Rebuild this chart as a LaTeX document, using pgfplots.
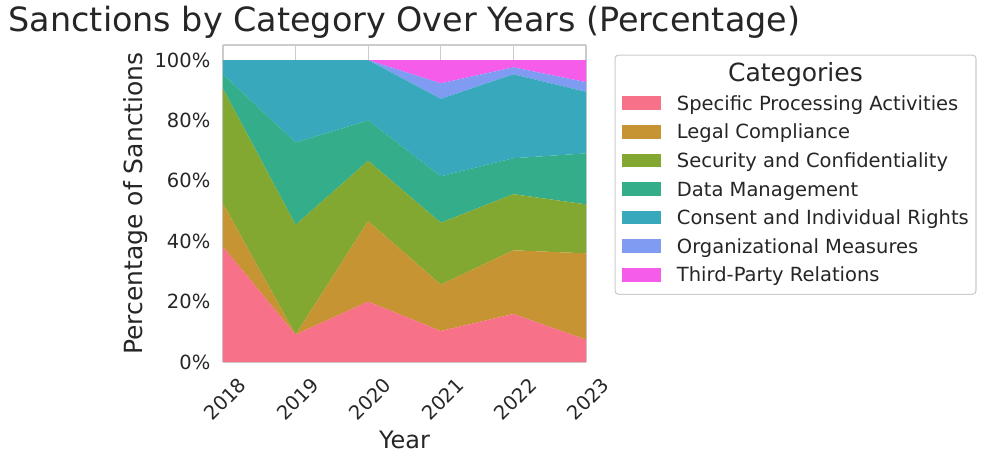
\documentclass[border=0pt]{standalone}
\usepackage{fontspec}
\setmainfont{DejaVu Sans}
\usepackage{pgfplots}
\pgfplotsset{compat=1.18}

\definecolor{cSPA}{HTML}{F77189}
\definecolor{cLC}{HTML}{C69432}
\definecolor{cSC}{HTML}{83A832}
\definecolor{cDM}{HTML}{34AE8A}
\definecolor{cCIR}{HTML}{38A9BD}
\definecolor{cOM}{HTML}{7F9CF2}
\definecolor{cTP}{HTML}{F45CE9}
\definecolor{txt}{HTML}{262626}
\definecolor{edge}{HTML}{CCCCCC}

\begin{document}
\begin{tikzpicture}[x=1pt,y=1pt]
\useasboundingbox (0,0) rectangle (986,464);
\begin{axis}[
    at={(223pt,102pt)}, anchor=south west,
    scale only axis, width=363pt, height=317pt,
    xmin=2018, xmax=2023, ymin=0, ymax=105,
    stack plots=y,
    xtick={2018,2019,2020,2021,2022,2023},
    ytick={0,20,40,60,80,100},
    yticklabel={\pgfmathprintnumber{\tick}\%},
    /pgf/number format/assume math mode=true,
    x tick label style={/pgf/number format/1000 sep={}},
    major tick length=0pt,
    grid=major,
    grid style={edge, line width=1.1pt},
    axis line style={draw=none},
    ticklabel style={font=\fontsize{19.5}{19.5}\selectfont, text=txt},
    xticklabel style={xshift=2pt, yshift=-37pt, rotate=45, anchor=center, inner sep=0pt},
    yticklabel style={anchor=east, inner sep=0pt, xshift=-12.5pt},
    xlabel={Year},
    ylabel={Percentage of Sanctions},
    xlabel style={font=\fontsize{24}{24}\selectfont, text=txt,
        at={(axis description cs:0.5,-0.246)}, anchor=center},
    ylabel style={font=\fontsize{25}{25}\selectfont, text=txt,
        at={(axis description cs:-0.242,0.5)}, anchor=center},
    title={Sanctions by Category Over Years (Percentage)},
    title style={font=\fontsize{33.4}{33.4}\selectfont, text=txt,
        at={(axis description cs:0.5,1.0252)}, anchor=base},
    legend cell align=left,
    legend image code/.code={\path[#1, draw=none, sharp corners] (0pt,-6.85pt) rectangle (39pt,6.85pt);},
    legend style={at={(1.0785,0.970)}, anchor=north west,
        draw=edge, line width=1.1pt, rounded corners=3.5pt, fill=white,
        inner xsep=7.2pt, inner ysep=12.5pt,
        column sep=15.7pt, row sep=14.38pt,
        font=\fontsize{19.5}{19.5}\selectfont, text=txt,
        nodes={inner sep=0pt, text height=14.2pt, text depth=0pt}},
]
\addlegendimage{empty legend}
\addlegendentry{\hspace*{118pt}\makebox[0pt]{\fontsize{25}{25}\selectfont Categories}\hspace*{-118pt}}

\addplot[fill=cSPA, draw=none] coordinates {
    (2018,38.10) (2019,9.09) (2020,20.00) (2021,10.26) (2022,15.9) (2023,7.4)
} \closedcycle;
\addlegendentry{Specific Processing Activities}

\addplot[fill=cLC, draw=none] coordinates {
    (2018,14.29) (2019,0) (2020,26.67) (2021,15.38) (2022,21.1) (2023,28.6)
} \closedcycle;
\addlegendentry{Legal Compliance}

\addplot[fill=cSC, draw=none] coordinates {
    (2018,38.10) (2019,36.36) (2020,20.00) (2021,20.51) (2022,18.6) (2023,16.2)
} \closedcycle;
\addlegendentry{Security and Confidentiality}

\addplot[fill=cDM, draw=none] coordinates {
    (2018,4.76) (2019,27.27) (2020,13.33) (2021,15.38) (2022,11.9) (2023,16.9)
} \closedcycle;
\addlegendentry{Data Management}

\addplot[fill=cCIR, draw=none] coordinates {
    (2018,4.76) (2019,27.27) (2020,20.00) (2021,25.64) (2022,27.8) (2023,20.4)
} \closedcycle;
\addlegendentry{Consent and Individual Rights}

\addplot[fill=cOM, draw=none] coordinates {
    (2018,0) (2019,0) (2020,0) (2021,5.13) (2022,2.3) (2023,3.2)
} \closedcycle;
\addlegendentry{Organizational Measures}

\addplot[fill=cTP, draw=none] coordinates {
    (2018,0) (2019,0) (2020,0) (2021,7.69) (2022,2.4) (2023,7.3)
} \closedcycle;
\addlegendentry{Third-Party Relations}

\draw[edge, line width=1.6pt] (rel axis cs:0,0) rectangle (rel axis cs:1,1);
\end{axis}
\end{tikzpicture}
\end{document}
